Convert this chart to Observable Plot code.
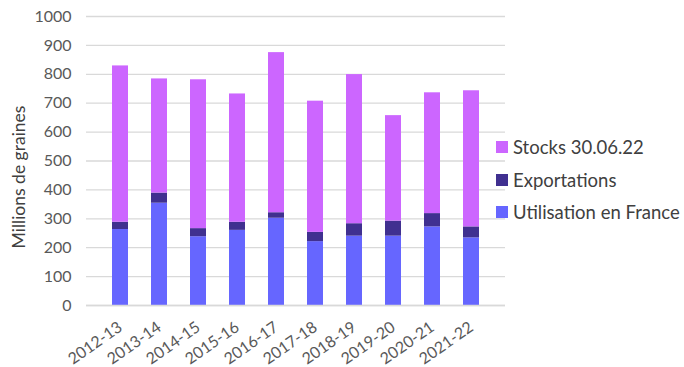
<!DOCTYPE html>
<html>
<head>
<meta charset="utf-8">
<script src="https://cdn.jsdelivr.net/npm/d3@7"></script>
<script src="https://cdn.jsdelivr.net/npm/@observablehq/plot@0.6"></script>
<style>
body { margin: 0; background: #fff; }
#wrap { position: relative; width: 684px; height: 367px; font-family: Lato, sans-serif; }
#wrap svg { overflow: visible; }
#legend { position: absolute; left: 496px; top: 131px; font-size: 18.5px; color: #404040; }
#legend div { display: flex; align-items: center; height: 32.5px; }
#legend span.sw { width: 12px; height: 12px; margin-right: 5px; display: inline-block; }
</style>
</head>
<body>
<div id="wrap"></div>
<script>
const categories = ["2012-13","2013-14","2014-15","2015-16","2016-17","2017-18","2018-19","2019-20","2020-21","2021-22"];
const utilisation = [263, 354, 238, 260, 302, 221, 240, 240, 272, 234];
const exportations = [25, 35, 28, 28, 19, 32, 43, 52, 46, 38];
const stocks = [541, 395, 515, 444, 554, 454, 516, 365, 418, 471];
const seriesNames = ["Utilisation en France", "Exportations", "Stocks 30.06.22"];
const seriesColors = ["#6666FF", "#403090", "#CC66FF"];
const yTicks = [0,100,200,300,400,500,600,700,800,900,1000];

const seriesValues = [utilisation, exportations, stocks];
const data = [];
categories.forEach((c, i) => {
  seriesNames.forEach((s, j) => data.push({cat: c, series: s, value: seriesValues[j][i]}));
});

const chart = Plot.plot({
  width: 684,
  height: 367,
  marginLeft: 86,
  marginRight: 179,
  marginTop: 16,
  marginBottom: 62,
  style: {fontFamily: "Lato, sans-serif", fontSize: "16px", color: "#595959", background: "#fff"},
  x: {domain: categories, padding: 0.6, label: null, tickSize: 0, tickRotate: -35, tickPadding: 20},
  y: {domain: [0, 1000], ticks: yTicks, label: null, tickSize: 0, tickPadding: 15, tickFormat: d => String(d)},
  color: {domain: seriesNames, range: seriesColors},
  marks: [
    Plot.ruleY(yTicks, {stroke: "#D9D9D9", strokeWidth: 1.3}),
    Plot.barY(data, Plot.stackY({order: seriesNames}, {x: "cat", y: "value", fill: "series"})),
    Plot.ruleY([0], {stroke: "#D9D9D9", strokeWidth: 1.5})
  ]
});
const wrap = document.getElementById("wrap");
wrap.appendChild(chart);

// y-axis title
const svg = d3.select(chart);
svg.append("text")
  .attr("transform", "translate(25,177) rotate(-90)")
  .attr("text-anchor", "middle")
  .attr("fill", "#404040")
  .style("font-size", "17.5px")
  .text("Millions de graines");

// legend
const legend = document.createElement("div");
legend.id = "legend";
[2, 1, 0].forEach(j => {
  const row = document.createElement("div");
  row.innerHTML = `<span class="sw" style="background:${seriesColors[j]}"></span>${seriesNames[j]}`;
  legend.appendChild(row);
});
wrap.appendChild(legend);
</script>
</body>
</html>
